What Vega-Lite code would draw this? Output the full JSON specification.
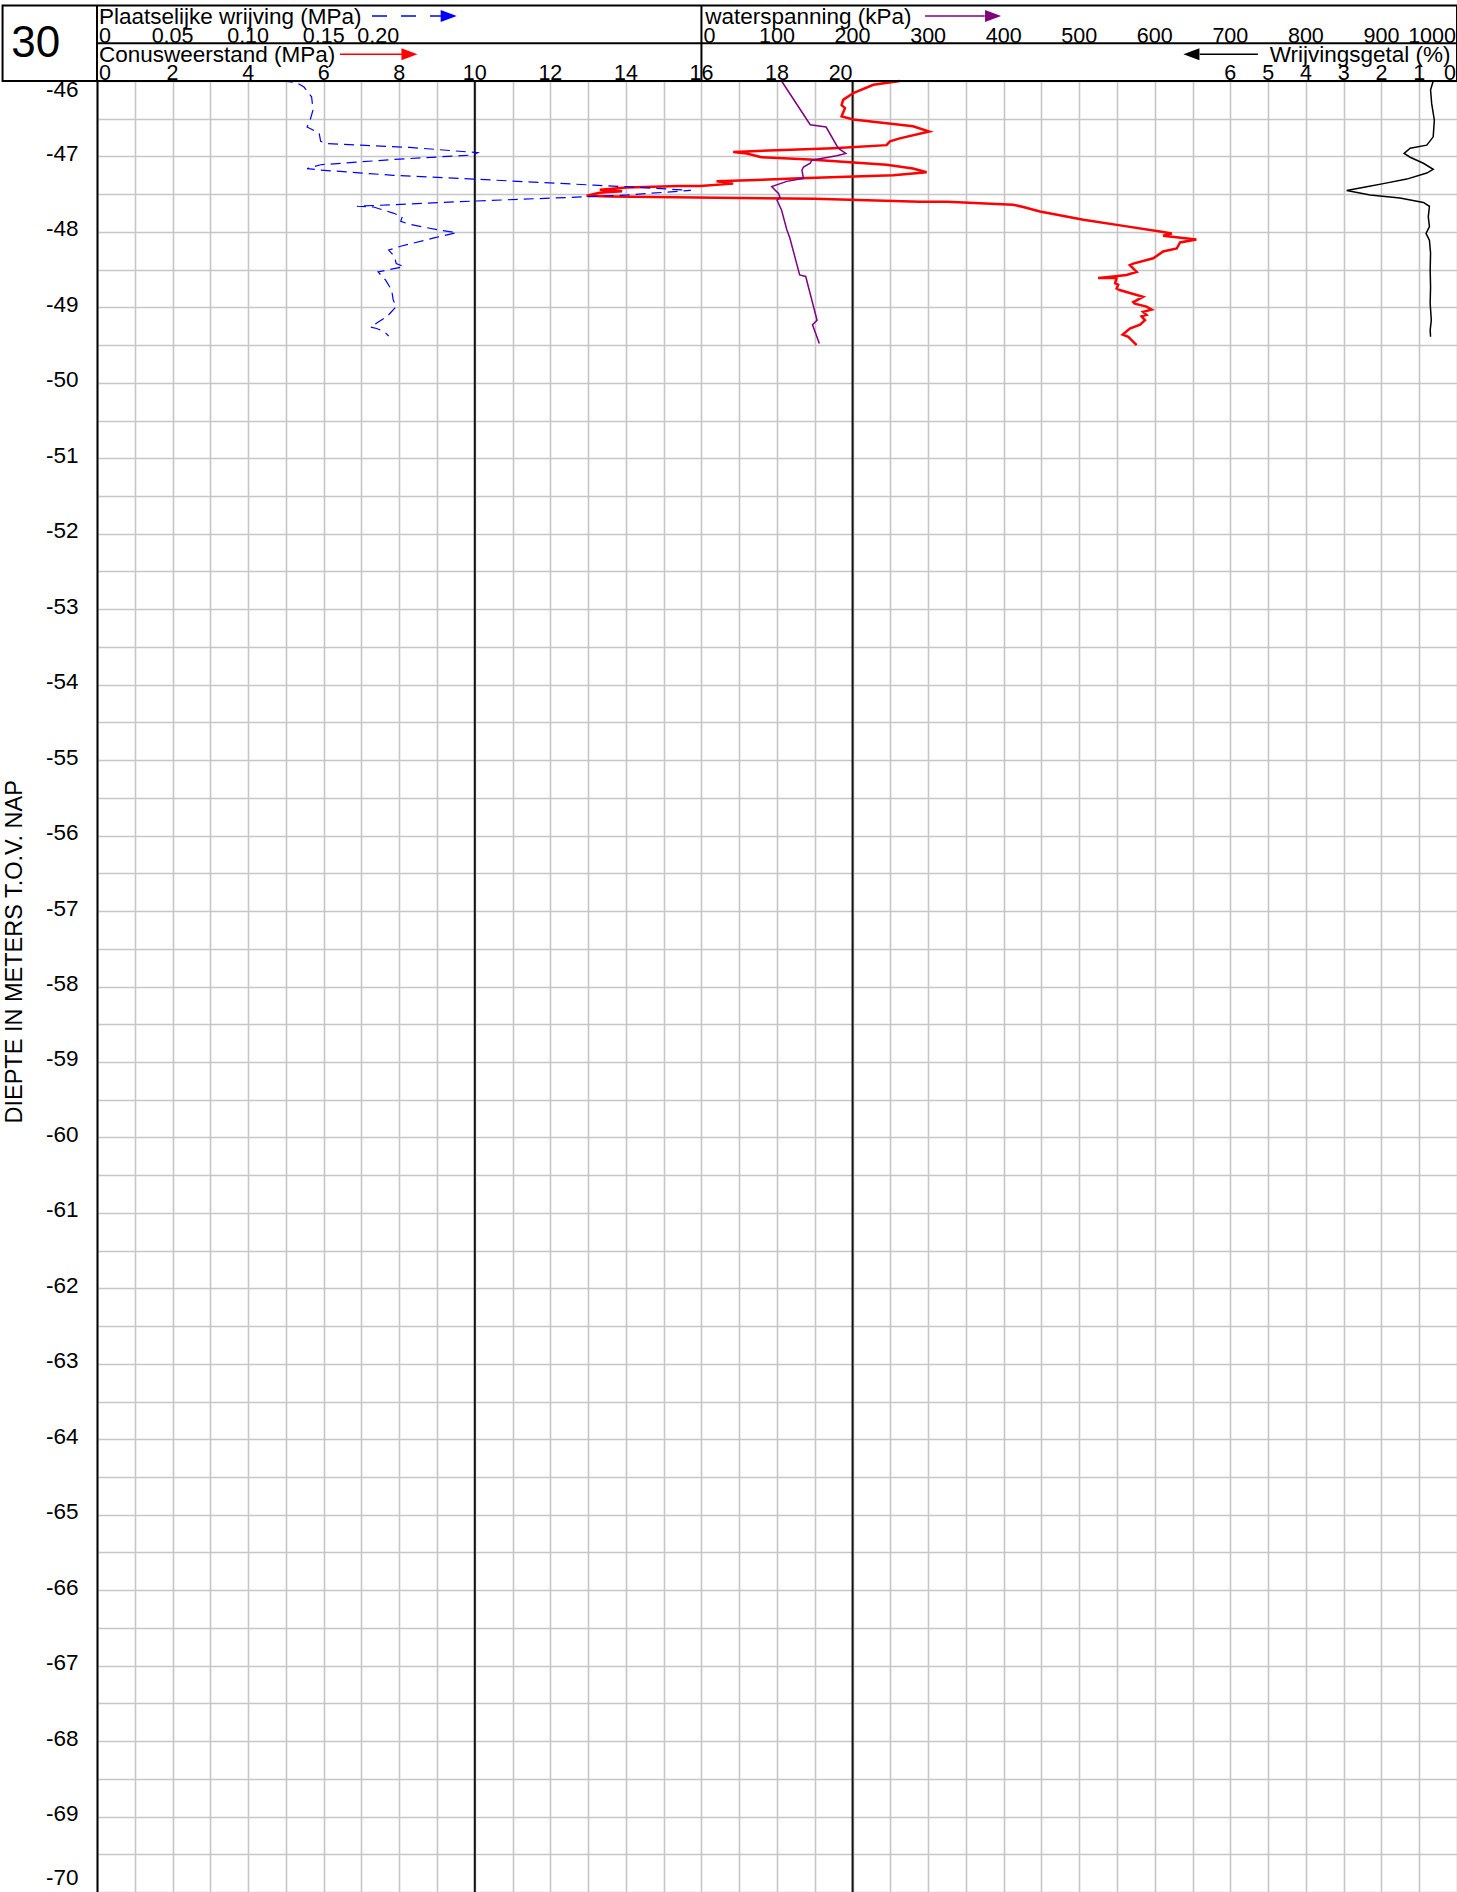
{
  "$schema": "https://vega.github.io/schema/vega-lite/v6.json",
  "width": 1360,
  "height": 1811,
  "autosize": {"type": "none"},
  "padding": {"left": 97, "top": 81, "right": 0, "bottom": 0},
  "background": "white",
  "config": {
    "view": {"stroke": null},
    "text": {"font": "Liberation Sans", "fontSize": 22.5, "color": "black"}
  },
  "resolve": {"scale": {"x": "independent"}, "axis": {"x": "independent", "y": "independent"}},
  "layer": [
    {
      "data": {"values": [{"q": 10}, {"q": 20}]},
      "mark": {"type": "rule", "color": "#111111", "strokeWidth": 2},
      "encoding": {
        "x": {"field": "q", "type": "quantitative", "scale": {"domain": [0, 36], "nice": false, "zero": false}, "axis": null}
      }
    },
    {
      "data": {"values": [
        {"qc": 21.25, "depth": -46.0}, {"qc": 20.55, "depth": -46.05}, {"qc": 20.02, "depth": -46.16}, {"qc": 19.75, "depth": -46.25},
        {"qc": 19.71, "depth": -46.32}, {"qc": 19.8, "depth": -46.36}, {"qc": 19.74, "depth": -46.43}, {"qc": 19.71, "depth": -46.47},
        {"qc": 20.02, "depth": -46.51}, {"qc": 20.9, "depth": -46.56}, {"qc": 21.6, "depth": -46.6}, {"qc": 22.03, "depth": -46.67},
        {"qc": 21.25, "depth": -46.76}, {"qc": 20.99, "depth": -46.8}, {"qc": 20.9, "depth": -46.85}, {"qc": 19.49, "depth": -46.89},
        {"qc": 16.84, "depth": -46.94}, {"qc": 17.2, "depth": -46.96}, {"qc": 17.59, "depth": -47.01}, {"qc": 18.87, "depth": -47.04},
        {"qc": 20.9, "depth": -47.11}, {"qc": 21.6, "depth": -47.16}, {"qc": 21.96, "depth": -47.21}, {"qc": 21.08, "depth": -47.25},
        {"qc": 18.61, "depth": -47.29}, {"qc": 16.4, "depth": -47.33}, {"qc": 16.84, "depth": -47.36}, {"qc": 15.96, "depth": -47.39},
        {"qc": 15.4, "depth": -47.39}, {"qc": 14.02, "depth": -47.41}, {"qc": 13.31, "depth": -47.44}, {"qc": 13.9, "depth": -47.46},
        {"qc": 13.3, "depth": -47.48}, {"qc": 12.96, "depth": -47.52}, {"qc": 13.58, "depth": -47.53}, {"qc": 17.02, "depth": -47.55},
        {"qc": 19.0, "depth": -47.56}, {"qc": 21.78, "depth": -47.6}, {"qc": 22.5, "depth": -47.6}, {"qc": 24.25, "depth": -47.64},
        {"qc": 24.52, "depth": -47.67}, {"qc": 24.96, "depth": -47.73}, {"qc": 26.11, "depth": -47.84}, {"qc": 27.17, "depth": -47.92},
        {"qc": 28.22, "depth": -48.0}, {"qc": 28.45, "depth": -48.02}, {"qc": 28.22, "depth": -48.05}, {"qc": 29.1, "depth": -48.1},
        {"qc": 28.67, "depth": -48.14}, {"qc": 28.58, "depth": -48.22}, {"qc": 28.22, "depth": -48.26}, {"qc": 27.96, "depth": -48.35},
        {"qc": 27.43, "depth": -48.42}, {"qc": 27.34, "depth": -48.44}, {"qc": 27.52, "depth": -48.53}, {"qc": 27.25, "depth": -48.57},
        {"qc": 26.9, "depth": -48.59}, {"qc": 26.5, "depth": -48.61}, {"qc": 26.99, "depth": -48.61}, {"qc": 26.95, "depth": -48.68},
        {"qc": 27.03, "depth": -48.7}, {"qc": 26.99, "depth": -48.75}, {"qc": 27.07, "depth": -48.77}, {"qc": 27.34, "depth": -48.81},
        {"qc": 27.69, "depth": -48.86}, {"qc": 27.43, "depth": -48.93}, {"qc": 27.47, "depth": -48.95}, {"qc": 27.78, "depth": -48.99},
        {"qc": 27.92, "depth": -49.03}, {"qc": 27.69, "depth": -49.06}, {"qc": 27.78, "depth": -49.1}, {"qc": 27.65, "depth": -49.12},
        {"qc": 27.74, "depth": -49.17}, {"qc": 27.61, "depth": -49.23}, {"qc": 27.34, "depth": -49.28}, {"qc": 27.15, "depth": -49.36},
        {"qc": 27.3, "depth": -49.39}, {"qc": 27.34, "depth": -49.41}, {"qc": 27.52, "depth": -49.5}
      ]},
      "mark": {"type": "line", "color": "#ff0000", "strokeWidth": 2.5},
      "encoding": {
        "x": {"field": "qc", "type": "quantitative", "scale": {"domain": [0, 36], "nice": false, "zero": false},
          "axis": {"orient": "top", "values": [0,1,2,3,4,5,6,7,8,9,10,11,12,13,14,15,16,17,18,19,20,21,22,23,24,25,26,27,28,29,30,31,32,33,34,35,36],
            "grid": true, "gridColor": "#c6c6c6", "gridWidth": 1.6, "labels": false, "ticks": false, "domain": false, "title": null}},
        "y": {"field": "depth", "type": "quantitative", "scale": {"domain": [-70, -46], "nice": false, "zero": false},
          "axis": {"orient": "left", "values": [-70,-69.5,-69,-68.5,-68,-67.5,-67,-66.5,-66,-65.5,-65,-64.5,-64,-63.5,-63,-62.5,-62,-61.5,-61,-60.5,-60,-59.5,-59,-58.5,-58,-57.5,-57,-56.5,-56,-55.5,-55,-54.5,-54,-53.5,-53,-52.5,-52,-51.5,-51,-50.5,-50,-49.5,-49,-48.5,-48,-47.5,-47,-46.5,-46],
            "grid": true, "gridColor": "#c6c6c6", "gridWidth": 1.6, "ticks": false, "domain": true, "domainColor": "black", "domainWidth": 2,
            "labelExpr": "datum.value % 1 === 0 ? '' + datum.value : ''", "labelFont": "Liberation Sans", "labelFontSize": 22.5, "labelColor": "black",
            "labelPadding": 19, "labelFlush": true, "labelOverlap": false, "labelOffset": -3, "title": null}},
        "order": {"value": null}
      }
    },
    {
      "data": {"values": [
        {"fs": 0.123, "depth": -46.0}, {"fs": 0.132, "depth": -46.02}, {"fs": 0.137, "depth": -46.08}, {"fs": 0.142, "depth": -46.21},
        {"fs": 0.143, "depth": -46.38}, {"fs": 0.141, "depth": -46.52}, {"fs": 0.139, "depth": -46.61}, {"fs": 0.147, "depth": -46.69},
        {"fs": 0.148, "depth": -46.8}, {"fs": 0.152, "depth": -46.83}, {"fs": 0.207, "depth": -46.88}, {"fs": 0.252, "depth": -46.95},
        {"fs": 0.249, "depth": -46.98}, {"fs": 0.196, "depth": -47.04}, {"fs": 0.148, "depth": -47.11}, {"fs": 0.139, "depth": -47.16},
        {"fs": 0.148, "depth": -47.18}, {"fs": 0.196, "depth": -47.25}, {"fs": 0.249, "depth": -47.3}, {"fs": 0.329, "depth": -47.38},
        {"fs": 0.359, "depth": -47.41}, {"fs": 0.393, "depth": -47.45}, {"fs": 0.351, "depth": -47.51}, {"fs": 0.329, "depth": -47.53},
        {"fs": 0.251, "depth": -47.59}, {"fs": 0.172, "depth": -47.66}, {"fs": 0.183, "depth": -47.67}, {"fs": 0.196, "depth": -47.75},
        {"fs": 0.202, "depth": -47.8}, {"fs": 0.201, "depth": -47.86}, {"fs": 0.207, "depth": -47.9}, {"fs": 0.225, "depth": -47.97},
        {"fs": 0.238, "depth": -48.01}, {"fs": 0.223, "depth": -48.08}, {"fs": 0.201, "depth": -48.19}, {"fs": 0.193, "depth": -48.24},
        {"fs": 0.197, "depth": -48.33}, {"fs": 0.198, "depth": -48.42}, {"fs": 0.203, "depth": -48.46}, {"fs": 0.186, "depth": -48.53},
        {"fs": 0.191, "depth": -48.64}, {"fs": 0.195, "depth": -48.77}, {"fs": 0.196, "depth": -48.9}, {"fs": 0.198, "depth": -48.99},
        {"fs": 0.192, "depth": -49.12}, {"fs": 0.181, "depth": -49.26}, {"fs": 0.185, "depth": -49.28}, {"fs": 0.19, "depth": -49.32},
        {"fs": 0.193, "depth": -49.38}
      ]},
      "mark": {"type": "line", "color": "#0000ff", "strokeWidth": 1.2, "strokeDash": [10, 6]},
      "encoding": {
        "x": {"field": "fs", "type": "quantitative", "scale": {"domain": [0, 0.9], "nice": false, "zero": false}, "axis": null},
        "y": {"field": "depth", "type": "quantitative", "scale": {"domain": [-70, -46], "nice": false, "zero": false}, "axis": null},
        "order": {"value": null}
      }
    },
    {
      "data": {"values": [
        {"u": 106, "depth": -46.0}, {"u": 144, "depth": -46.58}, {"u": 165, "depth": -46.61}, {"u": 181, "depth": -46.89},
        {"u": 191, "depth": -46.96}, {"u": 179, "depth": -46.99}, {"u": 146, "depth": -47.05}, {"u": 144, "depth": -47.09},
        {"u": 135, "depth": -47.14}, {"u": 133, "depth": -47.18}, {"u": 135, "depth": -47.29}, {"u": 113, "depth": -47.33},
        {"u": 93, "depth": -47.4}, {"u": 97, "depth": -47.44}, {"u": 102, "depth": -47.49}, {"u": 104, "depth": -47.54},
        {"u": 100, "depth": -47.58}, {"u": 106, "depth": -47.71}, {"u": 113, "depth": -47.97}, {"u": 117, "depth": -48.08},
        {"u": 130, "depth": -48.57}, {"u": 138, "depth": -48.59}, {"u": 153, "depth": -49.17}, {"u": 147, "depth": -49.23},
        {"u": 156, "depth": -49.48}
      ]},
      "mark": {"type": "line", "color": "#800080", "strokeWidth": 1.5},
      "encoding": {
        "x": {"field": "u", "type": "quantitative", "scale": {"domain": [-800, 1000], "nice": false, "zero": false}, "axis": null},
        "y": {"field": "depth", "type": "quantitative", "scale": {"domain": [-70, -46], "nice": false, "zero": false}, "axis": null},
        "order": {"value": null}
      }
    },
    {
      "data": {"values": [
        {"rf": 0.63, "depth": -46.0}, {"rf": 0.70, "depth": -46.12}, {"rf": 0.67, "depth": -46.3}, {"rf": 0.6, "depth": -46.52},
        {"rf": 0.63, "depth": -46.74}, {"rf": 0.8, "depth": -46.85}, {"rf": 1.24, "depth": -46.89}, {"rf": 1.4, "depth": -46.96},
        {"rf": 1.24, "depth": -47.01}, {"rf": 0.89, "depth": -47.09}, {"rf": 0.63, "depth": -47.17}, {"rf": 0.8, "depth": -47.22},
        {"rf": 1.33, "depth": -47.3}, {"rf": 1.95, "depth": -47.36}, {"rf": 2.39, "depth": -47.4}, {"rf": 2.92, "depth": -47.45},
        {"rf": 2.3, "depth": -47.51}, {"rf": 1.51, "depth": -47.55}, {"rf": 0.89, "depth": -47.61}, {"rf": 0.73, "depth": -47.66},
        {"rf": 0.76, "depth": -47.8}, {"rf": 0.73, "depth": -47.93}, {"rf": 0.82, "depth": -48.02}, {"rf": 0.73, "depth": -48.11},
        {"rf": 0.7, "depth": -48.28}, {"rf": 0.71, "depth": -48.5}, {"rf": 0.7, "depth": -48.73}, {"rf": 0.71, "depth": -48.95},
        {"rf": 0.68, "depth": -49.17}, {"rf": 0.71, "depth": -49.3}, {"rf": 0.7, "depth": -49.39}
      ]},
      "mark": {"type": "line", "color": "black", "strokeWidth": 1.5},
      "encoding": {
        "x": {"field": "rf", "type": "quantitative", "scale": {"domain": [36, 0], "nice": false, "zero": false}, "axis": null},
        "y": {"field": "depth", "type": "quantitative", "scale": {"domain": [-70, -46], "nice": false, "zero": false}, "axis": null},
        "order": {"value": null}
      }
    },
    {
      "data": {"values": [{}]},
      "mark": {"type": "rect", "fill": "transparent", "stroke": "black", "strokeWidth": 2},
      "encoding": {
        "x": {"datum": -2.5, "type": "quantitative", "scale": {"domain": [0, 36], "nice": false, "zero": false}, "axis": null},
        "x2": {"datum": 36},
        "y": {"datum": -45.0, "type": "quantitative", "scale": {"domain": [-70, -46], "nice": false, "zero": false}, "axis": null},
        "y2": {"datum": -46}
      }
    },
    {
      "data": {"values": [
        {"a": 0, "b": 36, "top": -45.5, "bottom": -45.5},
        {"a": 0, "b": 0, "top": -45.0, "bottom": -46.0},
        {"a": 16, "b": 16, "top": -45.0, "bottom": -46.0}
      ]},
      "mark": {"type": "rule", "color": "black", "strokeWidth": 2},
      "encoding": {
        "x": {"field": "a", "type": "quantitative", "scale": {"domain": [0, 36], "nice": false, "zero": false}, "axis": null},
        "x2": {"field": "b"},
        "y": {"field": "top", "type": "quantitative", "scale": {"domain": [-70, -46], "nice": false, "zero": false}, "axis": null},
        "y2": {"field": "bottom"}
      }
    },
    {
      "data": {"values": [{}]},
      "mark": {"type": "text", "text": "30", "fontSize": 44, "align": "center", "baseline": "alphabetic"},
      "encoding": {
        "x": {"datum": -1.62, "type": "quantitative", "scale": {"domain": [0, 36], "nice": false, "zero": false}, "axis": null},
        "y": {"datum": -45.678, "type": "quantitative", "scale": {"domain": [-70, -46], "nice": false, "zero": false}, "axis": null}
      }
    },
    {
      "data": {"values": [
        {"label": "Plaatselijke wrijving (MPa)", "px": 0.05, "row": -45.238},
        {"label": "Conusweerstand (MPa)", "px": 0.05, "row": -45.744},
        {"label": "waterspanning (kPa)", "px": 16.1, "row": -45.238}
      ]},
      "mark": {"type": "text", "align": "left", "baseline": "alphabetic"},
      "encoding": {
        "x": {"field": "px", "type": "quantitative", "scale": {"domain": [0, 36], "nice": false, "zero": false}, "axis": null},
        "y": {"field": "row", "type": "quantitative", "scale": {"domain": [-70, -46], "nice": false, "zero": false}, "axis": null},
        "text": {"field": "label"}
      }
    },
    {
      "data": {"values": [{"label": "Wrijvingsgetal (%)", "px": 35.83, "row": -45.744}]},
      "mark": {"type": "text", "align": "right", "baseline": "alphabetic"},
      "encoding": {
        "x": {"field": "px", "type": "quantitative", "scale": {"domain": [0, 36], "nice": false, "zero": false}, "axis": null},
        "y": {"field": "row", "type": "quantitative", "scale": {"domain": [-70, -46], "nice": false, "zero": false}, "axis": null},
        "text": {"field": "label"}
      }
    },
    {
      "data": {"values": [{"v": 0.05}, {"v": 0.10}, {"v": 0.15}]},
      "mark": {"type": "text", "align": "center", "baseline": "alphabetic", "fontSize": 21.5},
      "encoding": {
        "x": {"field": "v", "type": "quantitative", "scale": {"domain": [0, 0.9], "nice": false, "zero": false}, "axis": null},
        "y": {"datum": -45.49, "type": "quantitative", "scale": {"domain": [-70, -46], "nice": false, "zero": false}, "axis": null},
        "text": {"field": "v", "format": ".2f"}
      }
    },
    {
      "data": {"values": [{"v": 0}]},
      "mark": {"type": "text", "align": "left", "baseline": "alphabetic", "dx": 2, "fontSize": 21.5},
      "encoding": {
        "x": {"field": "v", "type": "quantitative", "scale": {"domain": [0, 0.9], "nice": false, "zero": false}, "axis": null},
        "y": {"datum": -45.49, "type": "quantitative", "scale": {"domain": [-70, -46], "nice": false, "zero": false}, "axis": null},
        "text": {"field": "v", "format": "d"}
      }
    },
    {
      "data": {"values": [{"v": 0.2}]},
      "mark": {"type": "text", "align": "right", "baseline": "alphabetic", "fontSize": 21.5},
      "encoding": {
        "x": {"field": "v", "type": "quantitative", "scale": {"domain": [0, 0.9], "nice": false, "zero": false}, "axis": null},
        "y": {"datum": -45.49, "type": "quantitative", "scale": {"domain": [-70, -46], "nice": false, "zero": false}, "axis": null},
        "text": {"field": "v", "format": ".2f"}
      }
    },
    {
      "data": {"values": [{"v": 2}, {"v": 4}, {"v": 6}, {"v": 8}, {"v": 10}, {"v": 12}, {"v": 14}, {"v": 16}, {"v": 18}]},
      "mark": {"type": "text", "align": "center", "baseline": "alphabetic", "fontSize": 21.5},
      "encoding": {
        "x": {"field": "v", "type": "quantitative", "scale": {"domain": [0, 36], "nice": false, "zero": false}, "axis": null},
        "y": {"datum": -45.99, "type": "quantitative", "scale": {"domain": [-70, -46], "nice": false, "zero": false}, "axis": null},
        "text": {"field": "v", "format": "d"}
      }
    },
    {
      "data": {"values": [{"v": 0}]},
      "mark": {"type": "text", "align": "left", "baseline": "alphabetic", "dx": 2, "fontSize": 21.5},
      "encoding": {
        "x": {"field": "v", "type": "quantitative", "scale": {"domain": [0, 36], "nice": false, "zero": false}, "axis": null},
        "y": {"datum": -45.99, "type": "quantitative", "scale": {"domain": [-70, -46], "nice": false, "zero": false}, "axis": null},
        "text": {"field": "v", "format": "d"}
      }
    },
    {
      "data": {"values": [{"v": 20}]},
      "mark": {"type": "text", "align": "right", "baseline": "alphabetic", "fontSize": 21.5},
      "encoding": {
        "x": {"field": "v", "type": "quantitative", "scale": {"domain": [0, 36], "nice": false, "zero": false}, "axis": null},
        "y": {"datum": -45.99, "type": "quantitative", "scale": {"domain": [-70, -46], "nice": false, "zero": false}, "axis": null},
        "text": {"field": "v", "format": "d"}
      }
    },
    {
      "data": {"values": [{"v": 100}, {"v": 200}, {"v": 300}, {"v": 400}, {"v": 500}, {"v": 600}, {"v": 700}, {"v": 800}, {"v": 900}]},
      "mark": {"type": "text", "align": "center", "baseline": "alphabetic", "fontSize": 21.5},
      "encoding": {
        "x": {"field": "v", "type": "quantitative", "scale": {"domain": [-800, 1000], "nice": false, "zero": false}, "axis": null},
        "y": {"datum": -45.49, "type": "quantitative", "scale": {"domain": [-70, -46], "nice": false, "zero": false}, "axis": null},
        "text": {"field": "v", "format": "d"}
      }
    },
    {
      "data": {"values": [{"v": 0}]},
      "mark": {"type": "text", "align": "left", "baseline": "alphabetic", "dx": 2, "fontSize": 21.5},
      "encoding": {
        "x": {"field": "v", "type": "quantitative", "scale": {"domain": [-800, 1000], "nice": false, "zero": false}, "axis": null},
        "y": {"datum": -45.49, "type": "quantitative", "scale": {"domain": [-70, -46], "nice": false, "zero": false}, "axis": null},
        "text": {"field": "v", "format": "d"}
      }
    },
    {
      "data": {"values": [{"v": 1000}]},
      "mark": {"type": "text", "align": "right", "baseline": "alphabetic", "dx": -1, "fontSize": 21.5},
      "encoding": {
        "x": {"field": "v", "type": "quantitative", "scale": {"domain": [-800, 1000], "nice": false, "zero": false}, "axis": null},
        "y": {"datum": -45.49, "type": "quantitative", "scale": {"domain": [-70, -46], "nice": false, "zero": false}, "axis": null},
        "text": {"field": "v", "format": "d"}
      }
    },
    {
      "data": {"values": [{"v": 6}, {"v": 5}, {"v": 4}, {"v": 3}, {"v": 2}, {"v": 1}]},
      "mark": {"type": "text", "align": "center", "baseline": "alphabetic", "fontSize": 21.5},
      "encoding": {
        "x": {"field": "v", "type": "quantitative", "scale": {"domain": [36, 0], "nice": false, "zero": false}, "axis": null},
        "y": {"datum": -45.99, "type": "quantitative", "scale": {"domain": [-70, -46], "nice": false, "zero": false}, "axis": null},
        "text": {"field": "v", "format": "d"}
      }
    },
    {
      "data": {"values": [{"v": 0}]},
      "mark": {"type": "text", "align": "right", "baseline": "alphabetic", "dx": -1, "fontSize": 21.5},
      "encoding": {
        "x": {"field": "v", "type": "quantitative", "scale": {"domain": [36, 0], "nice": false, "zero": false}, "axis": null},
        "y": {"datum": -45.99, "type": "quantitative", "scale": {"domain": [-70, -46], "nice": false, "zero": false}, "axis": null},
        "text": {"field": "v", "format": "d"}
      }
    },
    {
      "data": {"values": [{"a": 6.43, "b": 8.07, "row": -45.646}]},
      "mark": {"type": "rule", "color": "#ff0000", "strokeWidth": 1.5},
      "encoding": {
        "x": {"field": "a", "type": "quantitative", "scale": {"domain": [0, 36], "nice": false, "zero": false}, "axis": null},
        "x2": {"field": "b"},
        "y": {"field": "row", "type": "quantitative", "scale": {"domain": [-70, -46], "nice": false, "zero": false}, "axis": null}
      }
    },
    {
      "data": {"values": [{"a": 7.28, "b": 9.11, "row": -45.139}]},
      "mark": {"type": "rule", "color": "#0000ff", "strokeWidth": 1.5, "strokeDash": [15, 14]},
      "encoding": {
        "x": {"field": "a", "type": "quantitative", "scale": {"domain": [0, 36], "nice": false, "zero": false}, "axis": null},
        "x2": {"field": "b"},
        "y": {"field": "row", "type": "quantitative", "scale": {"domain": [-70, -46], "nice": false, "zero": false}, "axis": null}
      }
    },
    {
      "data": {"values": [{"a": 21.92, "b": 23.5, "row": -45.139}]},
      "mark": {"type": "rule", "color": "#800080", "strokeWidth": 1.5},
      "encoding": {
        "x": {"field": "a", "type": "quantitative", "scale": {"domain": [0, 36], "nice": false, "zero": false}, "axis": null},
        "x2": {"field": "b"},
        "y": {"field": "row", "type": "quantitative", "scale": {"domain": [-70, -46], "nice": false, "zero": false}, "axis": null}
      }
    },
    {
      "data": {"values": [{"a": 29.19, "b": 30.73, "row": -45.646}]},
      "mark": {"type": "rule", "color": "black", "strokeWidth": 1.5},
      "encoding": {
        "x": {"field": "a", "type": "quantitative", "scale": {"domain": [0, 36], "nice": false, "zero": false}, "axis": null},
        "x2": {"field": "b"},
        "y": {"field": "row", "type": "quantitative", "scale": {"domain": [-70, -46], "nice": false, "zero": false}, "axis": null}
      }
    },
    {
      "data": {"values": [{"a": 8.27, "row": -45.646}]},
      "mark": {"type": "point", "shape": "M-1,-0.75L1,0L-1,0.75Z", "size": 256, "filled": true, "color": "#ff0000", "opacity": 1},
      "encoding": {
        "x": {"field": "a", "type": "quantitative", "scale": {"domain": [0, 36], "nice": false, "zero": false}, "axis": null},
        "y": {"field": "row", "type": "quantitative", "scale": {"domain": [-70, -46], "nice": false, "zero": false}, "axis": null}
      }
    },
    {
      "data": {"values": [{"a": 9.31, "row": -45.139}]},
      "mark": {"type": "point", "shape": "M-1,-0.75L1,0L-1,0.75Z", "size": 256, "filled": true, "color": "#0000ff", "opacity": 1},
      "encoding": {
        "x": {"field": "a", "type": "quantitative", "scale": {"domain": [0, 36], "nice": false, "zero": false}, "axis": null},
        "y": {"field": "row", "type": "quantitative", "scale": {"domain": [-70, -46], "nice": false, "zero": false}, "axis": null}
      }
    },
    {
      "data": {"values": [{"a": 23.72, "row": -45.139}]},
      "mark": {"type": "point", "shape": "M-1,-0.75L1,0L-1,0.75Z", "size": 256, "filled": true, "color": "#800080", "opacity": 1},
      "encoding": {
        "x": {"field": "a", "type": "quantitative", "scale": {"domain": [0, 36], "nice": false, "zero": false}, "axis": null},
        "y": {"field": "row", "type": "quantitative", "scale": {"domain": [-70, -46], "nice": false, "zero": false}, "axis": null}
      }
    },
    {
      "data": {"values": [{"a": 28.97, "row": -45.646}]},
      "mark": {"type": "point", "shape": "M1,-0.75L-1,0L1,0.75Z", "size": 256, "filled": true, "color": "black", "opacity": 1},
      "encoding": {
        "x": {"field": "a", "type": "quantitative", "scale": {"domain": [0, 36], "nice": false, "zero": false}, "axis": null},
        "y": {"field": "row", "type": "quantitative", "scale": {"domain": [-70, -46], "nice": false, "zero": false}, "axis": null}
      }
    },
    {
      "data": {"values": [{"label": "DIEPTE IN METERS T.O.V. NAP", "px": -2.17, "row": -57.54}]},
      "mark": {"type": "text", "angle": 270, "align": "center", "baseline": "middle", "fontSize": 23.5},
      "encoding": {
        "x": {"field": "px", "type": "quantitative", "scale": {"domain": [0, 36], "nice": false, "zero": false}, "axis": null},
        "y": {"field": "row", "type": "quantitative", "scale": {"domain": [-70, -46], "nice": false, "zero": false}, "axis": null},
        "text": {"field": "label"}
      }
    }
  ]
}
